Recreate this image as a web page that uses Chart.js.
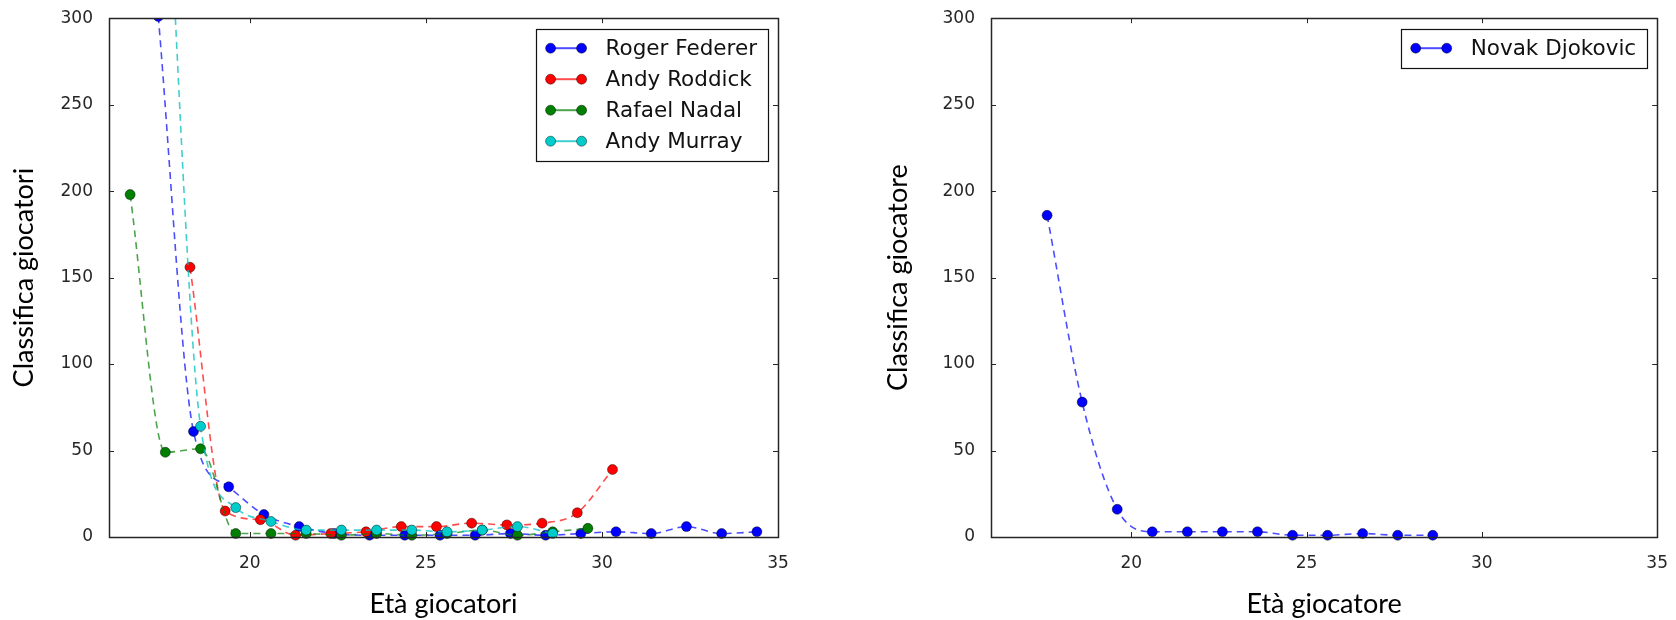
<!DOCTYPE html>
<html>
<head>
<meta charset="utf-8">
<script src="https://cdn.jsdelivr.net/npm/chart.js@4.4.1/dist/chart.umd.min.js"></script>
<style>
  body { margin: 0; background: #fff; width: 1676px; height: 620px; position: relative; overflow: hidden; }
  .riquadro { position: absolute; top: 0; height: 620px; }
</style>
</head>
<body>
<div class="riquadro" style="left:0; width:800px;"><canvas id="graficoSinistra"></canvas></div>
<div class="riquadro" style="left:820px; width:856px;"><canvas id="graficoDestra"></canvas></div>
<script>
// --- Dati (classifica di fine anno per età) ---
const federerEta = [17.4, 18.4, 19.4, 20.4, 21.4, 22.4, 23.4, 24.4, 25.4, 26.4, 27.4, 28.4, 29.4, 30.4, 31.4, 32.4, 33.4, 34.4];
const federerRank = [301, 61, 29, 13, 6, 2, 1, 1, 1, 1, 2, 1, 2, 3, 2, 6, 2, 3];

const roddickEta = [18.3, 19.3, 20.3, 21.3, 22.3, 23.3, 24.3, 25.3, 26.3, 27.3, 28.3, 29.3, 30.3];
const roddickRank = [156, 15, 10, 1, 2, 3, 6, 6, 8, 7, 8, 14, 39];

const nadalEta = [16.6, 17.6, 18.6, 19.6, 20.6, 21.6, 22.6, 23.6, 24.6, 25.6, 26.6, 27.6, 28.6, 29.6];
const nadalRank = [198, 49, 51, 2, 2, 2, 1, 2, 1, 2, 4, 1, 3, 5];

const murrayEta = [17.6, 18.6, 19.6, 20.6, 21.6, 22.6, 23.6, 24.6, 25.6, 26.6, 27.6, 28.6];
const murrayRank = [411, 64, 17, 9, 4, 4, 4, 4, 3, 4, 6, 2];

const djokovicEta = [17.6, 18.6, 19.6, 20.6, 21.6, 22.6, 23.6, 24.6, 25.6, 26.6, 27.6, 28.6];
const djokovicRank = [186, 78, 16, 3, 3, 3, 3, 1, 1, 2, 1, 1];

const tickEta = [20, 25, 30, 35];
const tickClassifica = [0, 50, 100, 150, 200, 250, 300];

// --- Stile ---
const fontTitoli = 'Lato, "Noto Sans", sans-serif';
const fontTick = '"DejaVu Sans", sans-serif';
const coloreTesto = '#262626';

function serie(label, eta, rank, colore, linea, indice) {
    return {
        label: label,
        data: eta.map((x, i) => ({ x: x, y: rank[i] })),
        borderColor: linea,
        borderWidth: 1.6,
        borderDash: [7, 5],
        backgroundColor: colore,
        pointRadius: 5,
        pointHoverRadius: 5,
        pointBackgroundColor: colore,
        pointBorderColor: 'rgba(0,0,0,0.55)',
        pointBorderWidth: 0.8,
        cubicInterpolationMode: 'monotone',
        clip: { left: 0, top: 0, right: 8, bottom: 8 },
        order: -indice
    };
}

// cornice con tacche verso l'interno (stile matplotlib classico)
const cornice = {
    id: 'cornice',
    afterDraw(chart) {
        const { ctx, chartArea: a, scales: { x, y } } = chart;
        const l = 5;
        ctx.save();
        ctx.strokeStyle = coloreTesto;
        ctx.lineWidth = 1;
        ctx.beginPath();
        x.ticks.forEach(t => {
            const px = Math.round(x.getPixelForValue(t.value)) + 0.5;
            ctx.moveTo(px, a.bottom); ctx.lineTo(px, a.bottom - l);
            ctx.moveTo(px, a.top); ctx.lineTo(px, a.top + l);
        });
        y.ticks.forEach(t => {
            const py = Math.round(y.getPixelForValue(t.value)) + 0.5;
            ctx.moveTo(a.left, py); ctx.lineTo(a.left + l, py);
            ctx.moveTo(a.right, py); ctx.lineTo(a.right - l, py);
        });
        ctx.stroke();
        ctx.lineWidth = 1.5;
        ctx.strokeRect(Math.round(a.left) + 0.5, Math.round(a.top) + 0.5,
            Math.round(a.right - a.left), Math.round(a.bottom - a.top));
        ctx.restore();
    }
};

// legenda dentro l'area, in alto a destra, con riquadro
const legendaBox = {
    id: 'legendaBox',
    afterDraw(chart) {
        const { ctx, chartArea: a } = chart;
        const ds = chart.data.datasets;
        ctx.save();
        ctx.font = '21.5px "DejaVu Sans", sans-serif';
        const larghTesto = Math.max(...ds.map(d => ctx.measureText(d.label).width));
        const w = 15 + 31 + 24 + larghTesto + 11;
        const h = ds.length * 31 + 8;
        const x0 = a.right - 10 - w;
        const y0 = a.top + 11;
        ctx.fillStyle = '#fff';
        ctx.fillRect(x0, y0, w, h);
        ctx.strokeStyle = '#111';
        ctx.lineWidth = 1.2;
        ctx.strokeRect(Math.round(x0) + 0.5, Math.round(y0) + 0.5, Math.round(w), Math.round(h));
        ds.forEach((d, i) => {
            const cy = y0 + 19 + i * 31;
            const xs = x0 + 15;
            ctx.strokeStyle = d.borderColor;
            ctx.lineWidth = 2;
            ctx.beginPath();
            ctx.moveTo(xs, cy); ctx.lineTo(xs + 31, cy);
            ctx.stroke();
            [xs, xs + 31].forEach(px => {
                ctx.beginPath();
                ctx.arc(px, cy, 5, 0, Math.PI * 2);
                ctx.fillStyle = d.pointBackgroundColor;
                ctx.fill();
                ctx.lineWidth = 0.8;
                ctx.strokeStyle = 'rgba(0,0,0,0.55)';
                ctx.stroke();
            });
            ctx.fillStyle = '#111';
            ctx.textBaseline = 'middle';
            ctx.fillText(d.label, xs + 31 + 24, cy + 1);
        });
        ctx.restore();
    }
};

function opzioni(titoloX, titoloY, larghAsseY, padTitoloY, padDestra) {
    return {
        responsive: true,
        maintainAspectRatio: false,
        animation: false,
        layout: { padding: { left: 0, top: 18, right: padDestra, bottom: 0 } },
        plugins: { legend: { display: false }, tooltip: { enabled: false } },
        scales: {
            x: {
                type: 'linear',
                min: 16, max: 35,
                afterBuildTicks: s => { s.ticks = tickEta.map(v => ({ value: v })); },
                afterFit: s => { s.height = 83; },
                grid: { display: false },
                border: { display: false },
                ticks: { padding: 8, color: coloreTesto, font: { family: fontTick, size: 17 } },
                title: { display: true, text: titoloX, color: '#000', padding: { top: 0, bottom: 0 },
                    font: { family: fontTitoli, size: 27 } }
            },
            y: {
                min: 0, max: 300,
                afterBuildTicks: s => { s.ticks = tickClassifica.map(v => ({ value: v })); },
                afterFit: s => { s.width = larghAsseY; },
                grid: { display: false },
                border: { display: false },
                ticks: { padding: 8, color: coloreTesto, font: { family: fontTick, size: 17 } },
                title: { display: true, text: titoloY, color: '#000', padding: { top: padTitoloY, bottom: 0 },
                    font: { family: fontTitoli, size: 27 } }
            }
        }
    };
}

new Chart(document.getElementById('graficoSinistra'), {
    type: 'line',
    data: {
        datasets: [
            serie('Roger Federer', federerEta, federerRank, '#0000ff', 'rgba(0,0,255,0.7)', 0),
            serie('Andy Roddick', roddickEta, roddickRank, '#ff0000', 'rgba(255,0,0,0.7)', 1),
            serie('Rafael Nadal', nadalEta, nadalRank, '#007f00', 'rgba(0,127,0,0.7)', 2),
            serie('Andy Murray', murrayEta, murrayRank, '#00cccc', 'rgba(0,191,191,0.75)', 3)
        ]
    },
    options: opzioni('Età giocatori', 'Classifica giocatori', 109, 8, 22),
    plugins: [cornice, legendaBox]
});

new Chart(document.getElementById('graficoDestra'), {
    type: 'line',
    data: {
        datasets: [
            serie('Novak Djokovic', djokovicEta, djokovicRank, '#0000ff', 'rgba(0,0,255,0.7)', 0)
        ]
    },
    options: opzioni('Età giocatore', 'Classifica giocatore', 171, 62, 15),
    plugins: [cornice, legendaBox]
});
</script>
</body>
</html>
